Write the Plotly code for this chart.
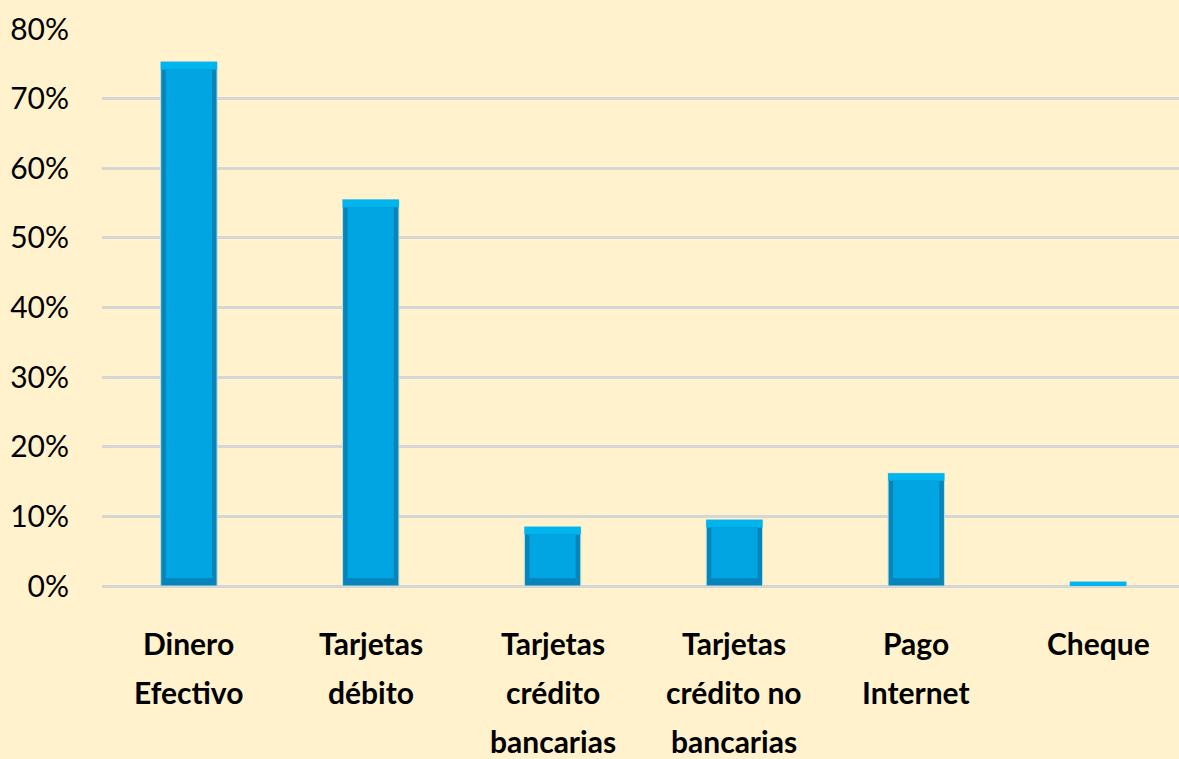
import plotly.graph_objects as go

categories = ["Dinero Efectivo", "Tarjetas débito", "Tarjetas crédito bancarias",
              "Tarjetas crédito no bancarias", "Pago Internet", "Cheque"]
label_lines = [["Dinero", "Efectivo"], ["Tarjetas", "débito"], ["Tarjetas", "crédito", "bancarias"],
               ["Tarjetas", "crédito no", "bancarias"], ["Pago", "Internet"], ["Cheque"]]
values = [0.753, 0.555, 0.085, 0.095, 0.162, 0.006]
tick_vals = [0, 0.1, 0.2, 0.3, 0.4, 0.5, 0.6, 0.7, 0.8]
tick_text = ["0%", "10%", "20%", "30%", "40%", "50%", "60%", "70%", "80%"]

BAR_W = 0.31
INSET_X = 0.09   # fraction of bar width lost to bevel
INSET_Y = 0.011  # bevel height in data units

fig = go.Figure()
# outer (dark bevel edges)
fig.add_trace(go.Bar(x=categories, y=values, width=BAR_W,
                     marker=dict(color="#0784BA", line=dict(color="#BFE3D8", width=1)),
                     hoverinfo="skip"))
# top light bevel
top_h = [min(INSET_Y, v) for v in values]
fig.add_trace(go.Bar(x=categories, y=top_h, base=[v - h for v, h in zip(values, top_h)],
                     width=BAR_W, marker=dict(color="#00B4EE", line=dict(width=0)),
                     hoverinfo="skip"))
# inner face
inner_h = [max(v - 2 * INSET_Y, 0) for v in values]
fig.add_trace(go.Bar(x=categories, y=inner_h, base=[INSET_Y] * len(values),
                     width=BAR_W * (1 - 2 * INSET_X), marker=dict(color="#00A5E2", line=dict(width=0)),
                     hoverinfo="skip"))

annotations = []
for cat, lines in zip(categories, label_lines):
    for i, line in enumerate(lines):
        annotations.append(dict(x=cat, xref="x", y=0, yref="paper", yanchor="middle",
                                xanchor="center", yshift=-57 - i * 49, showarrow=False,
                                text=line,
                                font=dict(family="Lato, sans-serif",
                                          size=30, color="#000000", weight="bold")))

fig.update_layout(
    width=1179, height=759,
    margin=dict(l=102, r=0, t=29, b=173),
    paper_bgcolor="#FFF2CC", plot_bgcolor="#FFF2CC",
    barmode="overlay", showlegend=False,
    annotations=annotations,
    xaxis=dict(type="category", range=[-0.478, 5.445], showticklabels=False,
               showgrid=False, zeroline=False, showline=False, ticks=""),
    yaxis=dict(range=[0, 0.8], tickvals=tick_vals, ticktext=tick_text,
               showgrid=True, gridcolor="#D6D6D6", gridwidth=2.5,
               zeroline=True, zerolinecolor="#D6D6D6", zerolinewidth=2.5,
               showline=False, ticks="", ticklabelstandoff=32,
               tickfont=dict(family="Lato, sans-serif", size=30, color="#000000")),
)

fig.write_html("out.html", config={"displayModeBar": False},
               post_script="document.body.style.margin='0';document.body.style.background='#FFF2CC';")
